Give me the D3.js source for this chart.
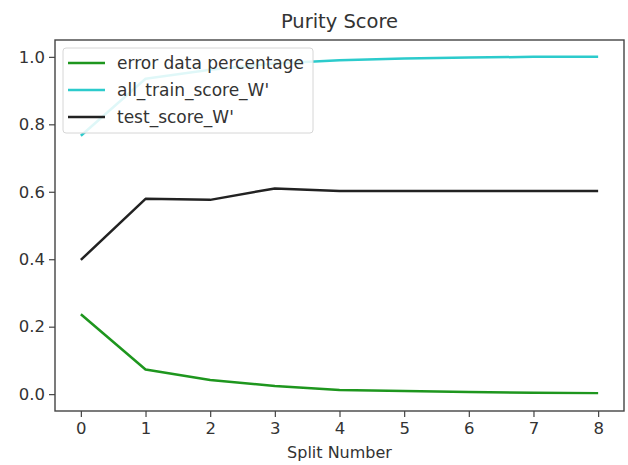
<!DOCTYPE html>
<html><head><meta charset="utf-8">
<script src="https://cdn.jsdelivr.net/npm/d3@7"></script>
<style>body{margin:0;background:#fff;} text{font-family:"DejaVu Sans",sans-serif;fill:#333;}</style>
</head><body>
<svg id="c" width="628" height="465"></svg>
<script>
const splits = [0,1,2,3,4,5,6,7,8];
const errorPct = [0.237,0.073,0.042,0.024,0.012,0.009,0.006,0.004,0.003];
const trainScore = [0.766,0.935,0.962,0.980,0.990,0.995,0.998,1.000,1.000];
const testScore = [0.398,0.579,0.576,0.610,0.602,0.602,0.602,0.602,0.602];
const yTicks = [0.0,0.2,0.4,0.6,0.8,1.0];
const series = [
  {name:"error data percentage", values:errorPct, color:"#1e961e"},
  {name:"all_train_score_W'", values:trainScore, color:"#2ccbcc"},
  {name:"test_score_W'", values:testScore, color:"#222222"}
];
const L=55,R=624,T=40,B=411;
const svg=d3.select("#c");
const x=d3.scaleLinear().domain([-0.4,8.4]).range([L,R]);
const y=d3.scaleLinear().domain([-0.05,1.05]).range([B,T]);
const line=d3.line().x((d,i)=>x(splits[i])).y(d=>y(d));
series.forEach(s=>{
  svg.append("path").attr("d",line(s.values)).attr("fill","none")
    .attr("stroke",s.color).attr("stroke-width",2.5).attr("stroke-linejoin","round");
});
const xa=svg.append("g").attr("transform",`translate(0,${B})`)
  .call(d3.axisBottom(x).tickValues(splits).tickFormat(d3.format("d")).tickSize(6).tickPadding(5));
const ya=svg.append("g").attr("transform",`translate(${L},0)`)
  .call(d3.axisLeft(y).tickValues(yTicks).tickFormat(d3.format(".1f")).tickSize(6).tickPadding(4));
[xa,ya].forEach(a=>{a.select(".domain").remove();a.selectAll("line").attr("stroke","#444").attr("stroke-width",1.2);a.selectAll("text").attr("font-size",16.5).attr("fill","#333").style("font-family","DejaVu Sans");});
svg.append("rect").attr("x",L).attr("y",T).attr("width",R-L).attr("height",B-T)
  .attr("fill","none").attr("stroke","#444").attr("stroke-width",1.4);
svg.append("text").attr("x",(L+R)/2).attr("y",28).attr("text-anchor","middle").attr("font-size",19.5).text("Purity Score");
svg.append("text").attr("x",(L+R)/2).attr("y",458).attr("text-anchor","middle").attr("font-size",16).text("Split Number");
const lg=svg.append("g");
lg.append("rect").attr("x",63).attr("y",48).attr("width",250).attr("height",85).attr("rx",3)
  .attr("fill","#fff").attr("fill-opacity",0.85).attr("stroke","#d6d6d6");
series.forEach((s,i)=>{
  const yy=63+i*27;
  lg.append("line").attr("x1",68).attr("x2",105).attr("y1",yy).attr("y2",yy).attr("stroke",s.color).attr("stroke-width",2.5);
  lg.append("text").attr("x",117).attr("y",yy+6).attr("font-size",17).text(s.name);
});
</script>
</body></html>
